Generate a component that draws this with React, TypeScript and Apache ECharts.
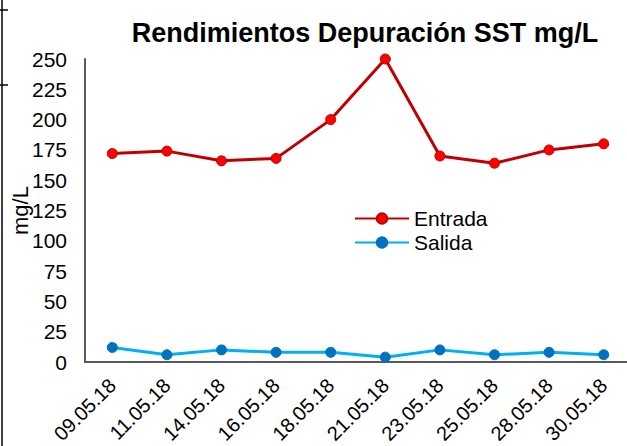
import React, { useEffect, useRef } from "react";
import * as echarts from "echarts";

const categories = ["09.05.18", "11.05.18", "14.05.18", "16.05.18", "18.05.18", "21.05.18", "23.05.18", "25.05.18", "28.05.18", "30.05.18"];
const entrada = [172, 174, 166, 168, 200, 250, 170, 164, 175, 180];
const salida = [12, 6, 10, 8, 8, 4, 10, 6, 8, 6];
const yTicks = { min: 0, max: 250, interval: 25 };

export default function App() {
  const ref = useRef<HTMLDivElement>(null);
  useEffect(() => {
    if (!ref.current) return;
    const chart = echarts.init(ref.current, null, { renderer: "svg" });
    const font = "'Liberation Sans', Arial, sans-serif";
    chart.setOption({
      animation: false,
      backgroundColor: "#ffffff",
      textStyle: { fontFamily: font },
      title: {
        text: "Rendimientos Depuración SST mg/L",
        left: 360,
        textAlign: "center",
        top: 14,
        textStyle: { fontFamily: font, fontSize: 27, fontWeight: "bold", color: "#000" },
      },
      grid: { left: 85, top: 59, width: 546, height: 303, containLabel: false, outerBoundsMode: "none" },
      legend: {
        orient: "vertical",
        left: 354,
        top: 208,
        padding: 0,
        itemWidth: 54,
        itemHeight: 13,
        itemGap: 3,
        textStyle: { fontFamily: font, fontSize: 21, lineHeight: 21, color: "#000" },
        data: ["Entrada", "Salida"],
      },
      xAxis: {
        type: "category",
        data: categories,
        boundaryGap: true,
        axisLine: { lineStyle: { color: "#595959", width: 2 } },
        axisTick: { show: false },
        axisLabel: { interval: 0, rotate: 45, fontSize: 20, color: "#000", fontFamily: font, margin: 20 },
      },
      yAxis: {
        type: "value",
        min: yTicks.min,
        max: yTicks.max,
        interval: yTicks.interval,
        name: "mg/L",
        nameLocation: "middle",
        nameRotate: 90,
        nameGap: 54,
        nameMoveOverlap: false,
        nameTextStyle: { fontSize: 22, color: "#000", fontFamily: font },
        axisLine: { show: true, lineStyle: { color: "#595959", width: 2 } },
        axisTick: { show: false },
        splitLine: { show: false },
        axisLabel: { fontSize: 21, color: "#000", fontFamily: font, margin: 18 },
      },
      series: [
        {
          name: "Entrada",
          type: "line",
          data: entrada,
          symbol: "circle",
          symbolSize: 10,
          lineStyle: { color: "#C00000", width: 3 },
          itemStyle: { color: "#FF0000", borderColor: "#C00000", borderWidth: 1 },
        },
        {
          name: "Salida",
          type: "line",
          data: salida,
          symbol: "circle",
          symbolSize: 10,
          lineStyle: { color: "#00B0F0", width: 3 },
          itemStyle: { color: "#0070C0", borderColor: "#0070C0", borderWidth: 1 },
        },
      ],
      graphic: [
        { type: "line", shape: { x1: 2, y1: 0, x2: 2, y2: 446 }, style: { stroke: "#000", lineWidth: 1.5 } },
        { type: "line", shape: { x1: 0, y1: 10, x2: 8, y2: 10 }, style: { stroke: "#000", lineWidth: 1.5 } },
        { type: "line", shape: { x1: 0, y1: 85, x2: 8, y2: 85 }, style: { stroke: "#000", lineWidth: 1.5 } },
      ],
    });
    return () => chart.dispose();
  }, []);
  return <div ref={ref} style={{ position: "absolute", left: 0, top: 0, width: 627, height: 446 }} />;
}
